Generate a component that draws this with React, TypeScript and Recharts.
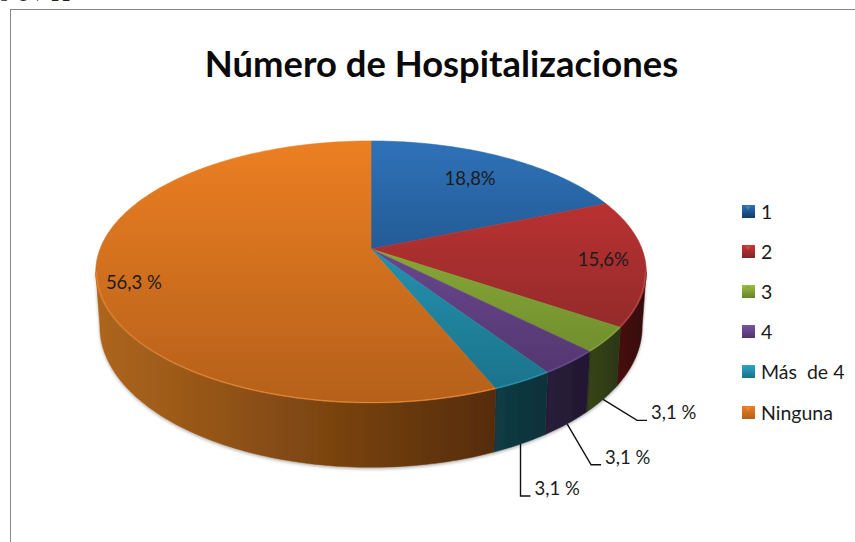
import React from "react";
import { PieChart, Pie, Legend } from "recharts";

const categories = ["1", "2", "3", "4", "Más  de 4", "Ninguna"];
const shares = [18.8, 15.6, 3.1, 3.1, 3.1, 56.3];
const shareLabels = ["18,8%", "15,6%", "3,1 %", "3,1 %", "3,1 %", "56,3 %"];
const colors = ["#23558d", "#a52e2e", "#76952f", "#5a3c7c", "#1f86a0", "#d0701f"];
const topLight = ["#2f72b8", "#cc3535", "#9cc03e", "#7c52a8", "#2aa8c8", "#ec7f22"];
const topDark = ["#123a66", "#7d2626", "#66832a", "#4e3469", "#1a7088", "#b5601a"];
const rimLight = ["#3d80c4", "#c84a4a", "#8aa83f", "#6d4f96", "#2f96b0", "#e58a3a"];
const wallLeft = ["#1c3f66", "#4a1212", "#37461a", "#2a1e3c", "#123c46", "#ad651d"];
const wallRight = ["#1c3f66", "#330b0b", "#2a3612", "#21172f", "#0e3039", "#552c08"];

const rows = categories.map((name, i) => ({ name, value: shares[i], fill: colors[i] }));

const TILT = 0.1756;
const X_SCALE = 271 / 127;
const DEPTH = 53 / 127;
const BOTTOM_X = 0.985;
const rad = (d: number) => (d * Math.PI) / 180;

function project(cx: number, cy: number, r: number, clock: number, bottom = false) {
  const u = Math.sin(rad(clock));
  const v = Math.cos(rad(clock));
  const den = 1 + TILT * v;
  const x = cx + ((bottom ? BOTTOM_X : 1) * X_SCALE * r * u) / den;
  const y = cy - (r * v) / den + (bottom ? (DEPTH * r) / den : 0);
  return { x, y };
}

function arcPoints(cx: number, cy: number, r: number, from: number, to: number, bottom = false) {
  const pts = [];
  const n = Math.max(2, Math.ceil(Math.abs(to - from)));
  for (let i = 0; i <= n; i++) pts.push(project(cx, cy, r, from + ((to - from) * i) / n, bottom));
  return pts;
}
const toD = (pts: { x: number; y: number }[]) =>
  pts.map((p, i) => `${i ? "L" : "M"}${p.x.toFixed(2)} ${p.y.toFixed(2)}`).join(" ");

const TopShape = (p: any) => {
  const i = categories.indexOf(p.name);
  const from = 90 - p.startAngle;
  const to = 90 - p.endAngle;
  const pts = arcPoints(p.cx, p.cy, p.outerRadius, from, to);
  const a = Math.max(from, 100);
  const b = Math.min(to, 260);
  return (
    <g>
      <path
        d={`M${p.cx} ${p.cy} ${toD(pts).replace("M", "L")} Z`}
        fill={`url(#top${i})`}
        stroke={`url(#top${i})`}
        strokeWidth={0.6}
      />
      {b > a && (
        <path d={toD(arcPoints(p.cx, p.cy, p.outerRadius - 0.5, a, b))} fill="none" stroke={rimLight[i]} strokeWidth={1} />
      )}
    </g>
  );
};

const WallShape = (p: any) => {
  const i = categories.indexOf(p.name);
  const a = Math.max(90 - p.startAngle, 100);
  const b = Math.min(90 - p.endAngle, 260);
  if (b <= a) return <g />;
  const top = arcPoints(p.cx, p.cy, p.outerRadius, a, b);
  const bot = arcPoints(p.cx, p.cy, p.outerRadius, b, a, true);
  return (
    <path
      d={`${toD(top)} ${toD(bot).replace("M", "L")} Z`}
      fill={`url(#wall${i})`}
      stroke={`url(#wall${i})`}
      strokeWidth={0.5}
      filter="url(#wallShadow)"
    />
  );
};

const radialFraction = [0.76, 0.85, 0, 0, 0, 0.858];
const labelNudge = [0, 0, 0, 0, 0, 12];
const leaderElbow = [null, null, [34, 21], [24, 41], [0, 52]];

const SliceLabel = (p: any) => {
  const i = categories.indexOf(p.name);
  const clock = 90 - p.midAngle;
  const font = { fontFamily: "Lato, Carlito, sans-serif", fontSize: 18.5, fill: "#1c1c1c" };
  const elbow = leaderElbow[i];
  if (elbow) {
    const s = project(p.cx, p.cy, p.outerRadius, clock, true);
    const ex = s.x + elbow[0];
    const ey = s.y + elbow[1];
    return (
      <g>
        <polyline
          points={`${s.x},${s.y} ${ex},${ey} ${ex + 10},${ey}`}
          fill="none"
          stroke="#111"
          strokeWidth={1.4}
        />
        <text x={ex + 14} y={ey} dy={-1} textAnchor="start" {...font}>
          {shareLabels[i]}
        </text>
      </g>
    );
  }
  const c = project(p.cx, p.cy, p.outerRadius * radialFraction[i], clock);
  return (
    <text x={c.x - 1} y={c.y + labelNudge[i]} dy={6} textAnchor="middle" {...font}>
      {shareLabels[i]}
    </text>
  );
};

const LegendList = ({ payload }: any) => {
  const seen = new Set<string>();
  const items = (payload || []).filter((e: any) => {
    if (seen.has(e.value)) return false;
    seen.add(e.value);
    return true;
  });
  return (
    <div style={{ fontFamily: "Lato, Carlito, sans-serif", fontSize: 19.5, color: "#1c1c1c" }}>
      {items.map((e: any) => {
        const i = categories.indexOf(e.value);
        return (
          <div key={e.value} style={{ height: 40.2, display: "flex", alignItems: "center", whiteSpace: "pre" }}>
            <div
              style={{
                position: "relative",
                width: 13,
                height: 13,
                marginRight: 6,
                background: `linear-gradient(${topLight[i]}, ${topDark[i]})`,
              }}
            >
              <div
                style={{
                  position: "absolute",
                  left: 3,
                  top: 1,
                  width: 0,
                  height: 0,
                  borderLeft: "3.5px solid transparent",
                  borderRight: "3.5px solid transparent",
                  borderTop: `4px solid ${rimLight[i]}`,
                }}
              />
            </div>
            <span>{e.value}</span>
          </div>
        );
      })}
    </div>
  );
};

export default function App() {
  return (
    <div style={{ position: "absolute", left: 0, top: 0, width: 855, height: 542, overflow: "hidden", background: "#fff" }}>
      <div
        style={{
          position: "absolute",
          left: 10,
          top: 9,
          width: 860,
          height: 560,
          border: "1.5px solid #868686",
          boxSizing: "border-box",
        }}
      />
      <div
        style={{
          position: "absolute",
          left: 0,
          top: -13,
          fontFamily: "Liberation Serif, serif",
          fontSize: 16,
          color: "#222",
          letterSpacing: 3,
        }}
      >
        S 1 / 22
      </div>
      <div
        style={{
          position: "absolute",
          left: 0,
          top: 41,
          width: 883,
          textAlign: "center",
          fontFamily: "Lato, Carlito, sans-serif",
          fontWeight: 700,
          fontSize: 36.4,
          lineHeight: "44px",
          color: "#0a0a0a",
        }}
      >
        Número de Hospitalizaciones
      </div>
      <div style={{ position: "absolute", left: 0, top: 0 }}>
        <PieChart width={855} height={542} margin={{ top: 0, right: 0, bottom: 0, left: 0 }}>
          <defs>
            {categories.map((_, i) => (
              <linearGradient key={`t${i}`} id={`top${i}`} gradientUnits="userSpaceOnUse" x1="0" y1="141" x2="0" y2="403">
                <stop offset="0" stopColor={topLight[i]} />
                <stop offset="1" stopColor={topDark[i]} />
              </linearGradient>
            ))}
            {categories.map((_, i) => (
              <linearGradient key={`w${i}`} id={`wall${i}`} gradientUnits={i === 5 ? "userSpaceOnUse" : "objectBoundingBox"} x1={i === 5 ? 100 : 0} y1="0" x2={i === 5 ? 495 : 1} y2="0">
                <stop offset="0" stopColor={wallLeft[i]} />
                <stop offset="1" stopColor={wallRight[i]} />
              </linearGradient>
            ))}
            <filter id="wallShadow" x="-5%" y="-5%" width="110%" height="115%">
              <feDropShadow dx="0" dy="1.5" stdDeviation="1.5" floodColor="#000" floodOpacity="0.3" />
            </filter>
          </defs>
          <Pie
            data={rows}
            dataKey="value"
            nameKey="name"
            cx={371}
            cy={249}
            outerRadius={127}
            startAngle={90}
            endAngle={-270}
            isAnimationActive={false}
            legendType="none"
            label={false}
            labelLine={false}
            stroke="none"
            shape={WallShape}
          />
          <Pie
            data={rows}
            dataKey="value"
            nameKey="name"
            cx={371}
            cy={249}
            outerRadius={127}
            startAngle={90}
            endAngle={-270}
            isAnimationActive={false}
            label={SliceLabel}
            labelLine={false}
            stroke="none"
            shape={TopShape}
          />
          <Legend
            layout="vertical"
            align="right"
            verticalAlign="top"
            content={LegendList}
            wrapperStyle={{ left: 742, top: 191, right: "auto", width: 112 }}
          />
        </PieChart>
      </div>
    </div>
  );
}
